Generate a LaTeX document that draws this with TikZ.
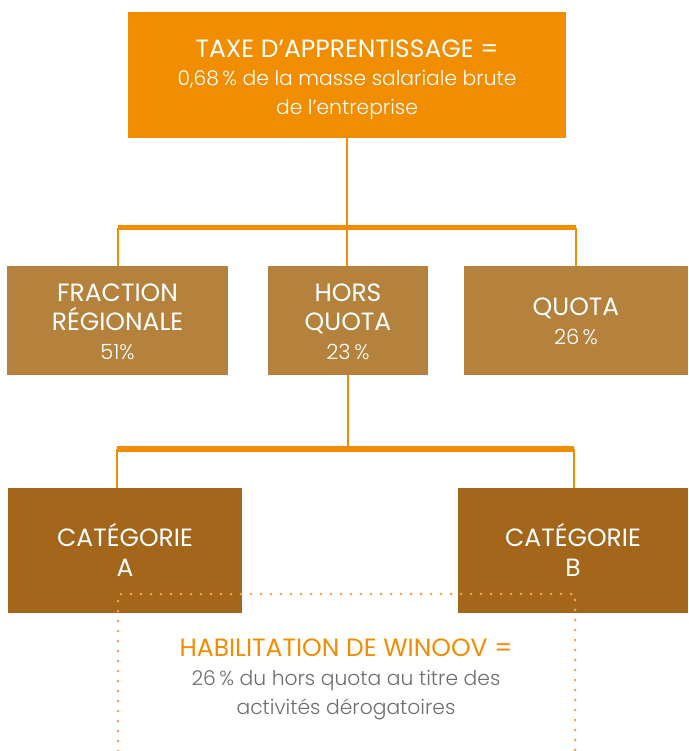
\documentclass[tikz,border=0pt]{standalone}
\usepackage{fontspec}
\setmainfont{Poppins}
\newfontfamily\capfont{Poppins}
\newfontfamily\lightfont{Poppins Light}
\definecolor{topor}{HTML}{F18D00}
\definecolor{midbr}{HTML}{B5823D}
\definecolor{lowbr}{HTML}{A4661A}
\definecolor{linor}{HTML}{F28C00}
\definecolor{dotor}{HTML}{F6A24A}
\definecolor{txtgr}{HTML}{6E6E6E}
\newcommand{\capsz}{\capfont\fontsize{25}{28}\selectfont}
\newcommand{\bodsz}{\lightfont\fontsize{20.3}{28}\selectfont}
\newcommand{\pctsz}{\lightfont\fontsize{21}{28}\selectfont}
\begin{document}
\begin{tikzpicture}[x=1pt,y=-1pt,
  boxbase/.style={rectangle,inner sep=0pt},
  topbox/.style={boxbase,fill=topor,minimum width=438pt,minimum height=126pt},
  midbox/.style={boxbase,fill=midbr,minimum height=109pt},
  lowbox/.style={boxbase,fill=lowbr,minimum height=125pt},
  boxtext/.style={inner sep=0pt,text=white,align=center,font=\fontsize{20}{28.5}\selectfont},
  thinline/.style={draw=linor,line width=1.5pt},
  barline/.style={draw=linor,line width=5.5pt},
  dotline/.style={draw=dotor,line width=3pt,line cap=round,dash pattern=on 0pt off 10pt},
]
\useasboundingbox (0,0) rectangle (688,751);
% top box
\node[topbox] (top) at (347,75) {};
\node[boxtext] (toptxt) at ([yshift=-4.5pt]top.center) {\capsz TAXE D’APPRENTISSAGE =\\
 \bodsz 0,68\,\% de la masse salariale brute\\ \bodsz de l’entreprise};
% row 2
\node[midbox,minimum width=221pt] (frac) at (117.5,320.5) {};
\node[midbox,minimum width=160pt] (hors) at (348,320.5) {};
\node[midbox,minimum width=224pt] (quota) at (576,320.5) {};
\node[boxtext,font=\fontsize{20}{29}\selectfont] (fractxt) at ([yshift=-1pt]frac.center) {\capsz FRACTION\\ \capsz RÉGIONALE\\ \pctsz 51\%};
\node[boxtext,font=\fontsize{20}{29}\selectfont] (horstxt) at ([yshift=-1pt]hors.center) {\capsz HORS\\ \capsz QUOTA\\ \pctsz 23\,\%};
\node[boxtext,font=\fontsize{20}{29}\selectfont] (quotatxt) at ([yshift=-1pt]quota.center) {\capsz QUOTA\\ \pctsz 26\,\%};
% row 3
\node[lowbox,minimum width=234pt] (catA) at (125,550.5) {};
\node[lowbox,minimum width=230pt] (catB) at (573,550.5) {};
\node[boxtext,font=\fontsize{20}{30}\selectfont] (catAtxt) at ([yshift=1pt]catA.center) {\capsz CATÉGORIE\\ \capsz A};
\node[boxtext,font=\fontsize{20}{30}\selectfont] (catBtxt) at ([yshift=1pt]catB.center) {\capsz CATÉGORIE\\ \capsz B};
% bars
\coordinate (b1l) at (118,227.5);
\coordinate (b1r) at (576,227.5);
\coordinate (b1m) at (top.south |- b1l);
\coordinate (b2l) at (117,449);
\coordinate (b2r) at (574,449);
\coordinate (b2m) at (hors.south |- b2l);
\draw[thinline] (top.south) -- (b1m);
\draw[thinline] (b1l) -- (b1l |- frac.north);
\draw[thinline] (b1m) -- (b1m |- hors.north);
\draw[thinline] (b1r) -- (b1r |- quota.north);
\draw[barline] (b1l) -- (b1r);
\draw[thinline] (hors.south) -- (b2m);
\draw[thinline] (b2l) -- (b2l |- catA.north);
\draw[thinline] (b2r) -- (b2r |- catB.north);
\draw[barline] (b2l) -- (b2r);
% dotted frame
\coordinate (dtl) at (118,594);
\coordinate (dtr) at (575,594);
\coordinate (dbl) at (118,751);
\coordinate (dbr) at (575,751);
\draw[dotline] (dbl) -- (dtl) -- (dtr) -- (dbr);
% habilitation text
\node[align=center,inner sep=0pt,font=\fontsize{20}{29}\selectfont] (hab) at (346,679.5) {\capsz\color{linor}HABILITATION DE WINOOV =\\
 \bodsz\color{txtgr}26\,\% du hors quota au titre des\\ \bodsz\color{txtgr}activités dérogatoires};
\end{tikzpicture}
\end{document}
